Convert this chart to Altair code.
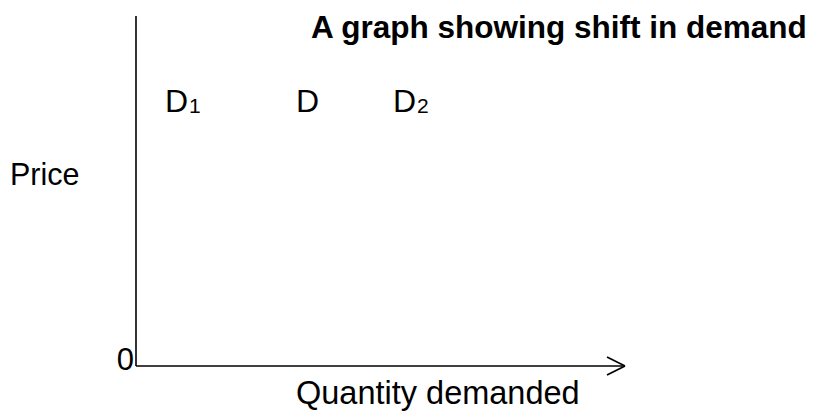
import altair as alt
import pandas as pd

# ---- data (diagram units: origin of the axes at 0,0; one unit = one pixel) ----
price_axis_top = 350          # length of the vertical (price) axis
quantity_axis_end = 489       # length of the horizontal (quantity) axis
arrow_len = 18
arrow_half = 9

curve_labels = ["D", "D", "D"]
curve_label_x = [29, 160, 257]
curve_label_y = [254, 254, 254]
subscripts = ["1", "2"]
subscript_x = [53, 281]
subscript_y = [253, 253]

title_text = ["A graph showing shift in demand"]
title_x = [175]
title_y = [328]

price_label = ["Price"]
price_x = [-126]
price_y = [181]

zero_label = ["0"]
zero_x = [-2]
zero_y = [-4]

qty_label = ["Quantity demanded"]
qty_x = [160]
qty_y = [-38]

X_DOMAIN = [-128, 674]
Y_DOMAIN = [-46, 358]
FONT = "Liberation Sans"

xs = alt.Scale(domain=X_DOMAIN, nice=False, zero=False)
ys = alt.Scale(domain=Y_DOMAIN, nice=False, zero=False)

lines = pd.DataFrame({
    "x": [0, 0, quantity_axis_end - arrow_len, quantity_axis_end - arrow_len],
    "y": [0, 0, arrow_half, -arrow_half],
    "x2": [0, quantity_axis_end, quantity_axis_end, quantity_axis_end],
    "y2": [price_axis_top, 0, 0, 0],
})

rules = alt.Chart(lines).mark_rule(color="black", strokeWidth=1.6).encode(
    x=alt.X("x:Q", scale=xs, axis=None),
    y=alt.Y("y:Q", scale=ys, axis=None),
    x2="x2:Q",
    y2="y2:Q",
)


def text_layer(labels, xv, yv, size, weight="normal", align="left"):
    df = pd.DataFrame({"t": labels, "x": xv, "y": yv})
    return alt.Chart(df).mark_text(
        align=align, baseline="alphabetic", font=FONT, fontSize=size,
        fontWeight=weight, color="black",
    ).encode(
        x=alt.X("x:Q", scale=xs, axis=None),
        y=alt.Y("y:Q", scale=ys, axis=None),
        text="t:N",
    )


chart = alt.layer(
    rules,
    text_layer(title_text, title_x, title_y, 31.5, "bold"),
    text_layer(price_label, price_x, price_y, 30.5),
    text_layer(zero_label, zero_x, zero_y, 31, align="right"),
    text_layer(qty_label, qty_x, qty_y, 32.5),
    text_layer(curve_labels, curve_label_x, curve_label_y, 32),
    text_layer(subscripts, subscript_x, subscript_y, 21),
).properties(
    width=802, height=404, padding=0, autosize="none",
).configure_view(stroke=None)

chart.save("out.html", embed_options={"renderer": "svg", "actions": False})
